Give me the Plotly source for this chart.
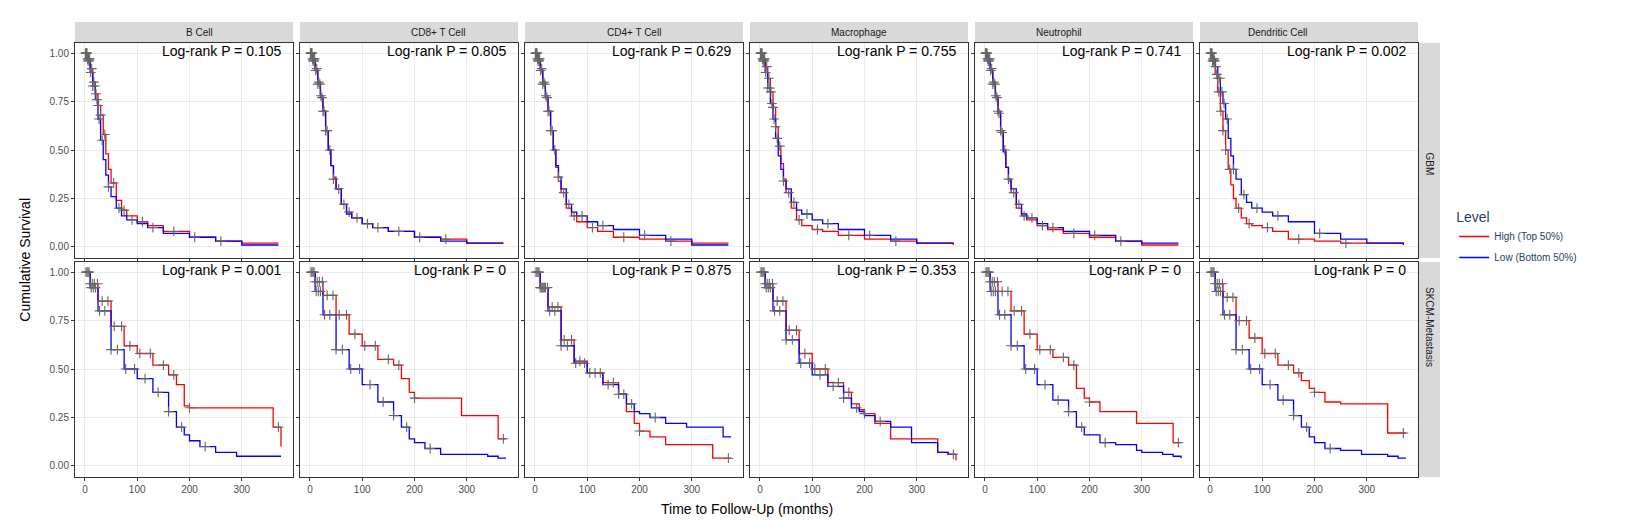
import numpy as np
import plotly.graph_objects as go
from plotly.subplots import make_subplots

cells = ["B Cell", "CD8+ T Cell", "CD4+ T Cell", "Macrophage", "Neutrophil", "Dendritic Cell"]
cancers = ["GBM", "SKCM-Metastasis"]
pvals_gbm = ["0.105", "0.805", "0.629", "0.755", "0.741", "0.002"]
pvals_skcm = ["0.001", "0", "0.875", "0.353", "0", "0"]

# GBM curves (time in months, survival)
gbm_t = [0, 5, 10, 15, 20, 25, 30, 35, 40, 45, 50, 60, 70, 80, 100, 120, 150, 200, 250, 300, 370]
gbm_b_high = [1, 0.97, 0.92, 0.85, 0.79, 0.73, 0.68, 0.58, 0.48, 0.4, 0.33, 0.24, 0.19, 0.16, 0.13, 0.11, 0.08, 0.05, 0.03, 0.02, 0.02]
gbm_b_low = [1, 0.96, 0.9, 0.83, 0.76, 0.66, 0.55, 0.45, 0.37, 0.31, 0.26, 0.2, 0.16, 0.14, 0.12, 0.1, 0.07, 0.05, 0.03, 0.01, 0.01]
gbm_cd8_high = [1, 0.97, 0.92, 0.85, 0.78, 0.7, 0.6, 0.5, 0.42, 0.36, 0.3, 0.22, 0.18, 0.15, 0.12, 0.1, 0.08, 0.05, 0.04, 0.02, 0.02]
gbm_cd8_low = [1, 0.96, 0.91, 0.84, 0.77, 0.7, 0.6, 0.5, 0.42, 0.35, 0.3, 0.22, 0.17, 0.15, 0.12, 0.1, 0.08, 0.05, 0.03, 0.02, 0.02]
gbm_cd4_high = [1, 0.97, 0.92, 0.85, 0.78, 0.7, 0.6, 0.5, 0.41, 0.34, 0.28, 0.2, 0.16, 0.13, 0.1, 0.08, 0.05, 0.04, 0.03, 0.02, 0.02]
gbm_cd4_low = [1, 0.96, 0.91, 0.84, 0.77, 0.7, 0.6, 0.5, 0.42, 0.36, 0.3, 0.22, 0.18, 0.16, 0.13, 0.11, 0.09, 0.06, 0.04, 0.01, 0.01]
gbm_mac_high = [1, 0.97, 0.93, 0.87, 0.8, 0.72, 0.62, 0.52, 0.43, 0.35, 0.28, 0.2, 0.14, 0.11, 0.09, 0.08, 0.06, 0.04, 0.03, 0.02, 0.01]
gbm_mac_low = [1, 0.96, 0.9, 0.82, 0.74, 0.66, 0.56, 0.47, 0.4, 0.34, 0.3, 0.23, 0.19, 0.17, 0.14, 0.12, 0.09, 0.06, 0.04, 0.02, 0.02]
gbm_neu_high = [1, 0.97, 0.92, 0.85, 0.78, 0.7, 0.6, 0.5, 0.41, 0.34, 0.28, 0.2, 0.16, 0.14, 0.11, 0.09, 0.07, 0.05, 0.03, 0.01, 0.01]
gbm_neu_low = [1, 0.96, 0.91, 0.84, 0.77, 0.69, 0.59, 0.49, 0.41, 0.35, 0.3, 0.22, 0.17, 0.15, 0.12, 0.1, 0.08, 0.06, 0.03, 0.02, 0.02]
gbm_dc_high = [1, 0.96, 0.89, 0.8, 0.7, 0.6, 0.5, 0.4, 0.32, 0.25, 0.2, 0.15, 0.12, 0.11, 0.1, 0.08, 0.04, 0.03, 0.02, 0.02, 0.02]
gbm_dc_low = [1, 0.97, 0.93, 0.87, 0.8, 0.74, 0.66, 0.56, 0.47, 0.4, 0.35, 0.27, 0.23, 0.2, 0.18, 0.16, 0.13, 0.07, 0.04, 0.02, 0.01]

# SKCM-Metastasis curves
skcm_t = [0, 10, 25, 50, 75, 100, 130, 160, 175, 190, 200, 220, 250, 290, 300, 340, 360, 375]
skcm_b_high = [1, 0.94, 0.85, 0.72, 0.62, 0.58, 0.52, 0.47, 0.42, 0.31, 0.3, 0.3, 0.3, 0.3, 0.3, 0.3, 0.2, 0.1]
skcm_b_low = [1, 0.92, 0.8, 0.6, 0.5, 0.45, 0.38, 0.28, 0.2, 0.16, 0.13, 0.1, 0.07, 0.05, 0.05, 0.05, 0.05, 0.05]
skcm_cd8_high = [1, 0.95, 0.88, 0.78, 0.68, 0.62, 0.55, 0.52, 0.45, 0.38, 0.35, 0.35, 0.35, 0.26, 0.26, 0.26, 0.14, 0.14]
skcm_cd8_low = [1, 0.9, 0.78, 0.6, 0.5, 0.42, 0.33, 0.26, 0.2, 0.14, 0.12, 0.09, 0.06, 0.06, 0.06, 0.05, 0.04, 0.04]
skcm_cd4_high = [1, 0.92, 0.82, 0.65, 0.54, 0.48, 0.43, 0.37, 0.28, 0.22, 0.18, 0.15, 0.11, 0.11, 0.11, 0.04, 0.04, 0.04]
skcm_cd4_low = [1, 0.92, 0.8, 0.62, 0.53, 0.48, 0.42, 0.37, 0.32, 0.28, 0.27, 0.25, 0.22, 0.2, 0.2, 0.2, 0.15, 0.15]
skcm_mac_high = [1, 0.94, 0.85, 0.7, 0.58, 0.5, 0.43, 0.38, 0.32, 0.29, 0.27, 0.22, 0.14, 0.14, 0.14, 0.07, 0.06, 0.03]
skcm_mac_low = [1, 0.92, 0.8, 0.65, 0.53, 0.47, 0.41, 0.35, 0.3, 0.28, 0.26, 0.23, 0.2, 0.12, 0.12, 0.07, 0.06, 0.06]
skcm_neu_high = [1, 0.95, 0.9, 0.8, 0.68, 0.6, 0.56, 0.52, 0.4, 0.35, 0.33, 0.28, 0.28, 0.22, 0.22, 0.22, 0.12, 0.12]
skcm_neu_low = [1, 0.9, 0.78, 0.62, 0.5, 0.42, 0.34, 0.28, 0.2, 0.16, 0.16, 0.12, 0.11, 0.08, 0.07, 0.06, 0.05, 0.04]
skcm_dc_high = [1, 0.94, 0.87, 0.75, 0.66, 0.58, 0.52, 0.48, 0.44, 0.4, 0.38, 0.33, 0.32, 0.32, 0.32, 0.17, 0.17, 0.17]
skcm_dc_low = [1, 0.9, 0.78, 0.6, 0.5, 0.42, 0.34, 0.26, 0.2, 0.15, 0.12, 0.09, 0.08, 0.06, 0.06, 0.05, 0.04, 0.04]

# censoring times
gbm_cens = [1, 2, 3, 4, 5, 6, 7, 8, 9, 11, 13, 15, 17, 19, 21, 23, 25, 27, 30, 33, 38, 45, 55, 65, 75, 90, 110, 130, 170, 210, 260]
skcm_cens = [2, 4, 6, 8, 10, 12, 14, 16, 18, 20, 24, 28, 33, 38, 44, 50, 56, 62, 70, 78, 86, 95, 105, 115, 125, 140, 150, 160, 170, 185, 200, 230, 370]

gbm_curves = [(gbm_b_high, gbm_b_low), (gbm_cd8_high, gbm_cd8_low), (gbm_cd4_high, gbm_cd4_low),
              (gbm_mac_high, gbm_mac_low), (gbm_neu_high, gbm_neu_low), (gbm_dc_high, gbm_dc_low)]
skcm_curves = [(skcm_b_high, skcm_b_low), (skcm_cd8_high, skcm_cd8_low), (skcm_cd4_high, skcm_cd4_low),
               (skcm_mac_high, skcm_mac_low), (skcm_neu_high, skcm_neu_low), (skcm_dc_high, skcm_dc_low)]


def step_at(t, s, x):
    t = np.array(t)
    s = np.array(s)
    idx = np.searchsorted(t, x, side="right") - 1
    return s[idx]


fig = make_subplots(rows=2, cols=6, horizontal_spacing=0.0052, vertical_spacing=0.0092,
                    shared_xaxes=True, shared_yaxes=True)

rows = [(gbm_t, gbm_curves, gbm_cens, pvals_gbm), (skcm_t, skcm_curves, skcm_cens, pvals_skcm)]
for r, (tt, curves, cens, pv) in enumerate(rows, start=1):
    for c, (hi, lo) in enumerate(curves, start=1):
        for s, col, name in [(hi, "#FF0000", "High (Top 50%)"), (lo, "#0000FF", "Low (Bottom 50%)")]:
            fig.add_trace(go.Scatter(x=tt, y=s, mode="lines", line=dict(color=col, width=1.3, shape="hv"),
                                     name=name, legendgroup=name, showlegend=(r == 1 and c == 1)),
                          row=r, col=c)
        for k, s in enumerate((hi, lo)):
            cx = [x for x in cens if x <= tt[-1]][k::2]
            fig.add_trace(go.Scatter(x=cx, y=step_at(tt, s, cx), mode="markers",
                                     marker=dict(symbol="cross-thin-open", size=7, color="#666666",
                                                 line=dict(width=1.1, color="#666666")),
                                     showlegend=False, hoverinfo="skip"), row=r, col=c)
        n = (r - 1) * 6 + c
        sfx = "" if n == 1 else str(n)
        fig.add_annotation(text="Log-rank P = " + pv[c - 1], x=1, y=1, xref=f"x{sfx} domain",
                           yref=f"y{sfx} domain", xanchor="right", yanchor="top", xshift=-10, yshift=2,
                           showarrow=False, font=dict(size=14, color="black"))

fig.update_xaxes(range=[-19, 398], tickvals=[0, 100, 200, 300], showgrid=True, gridcolor="#EBEBEB",
                 showline=True, linecolor="#333333", mirror=True, zeroline=False, ticks="outside",
                 ticklen=3, tickcolor="#333333", tickfont=dict(size=10, color="#4D4D4D"))
fig.update_yaxes(range=[-0.057, 1.052], tickvals=[0, 0.25, 0.5, 0.75, 1],
                 ticktext=["0.00", "0.25", "0.50", "0.75", "1.00"], showgrid=True, gridcolor="#EBEBEB",
                 showline=True, linecolor="#333333", mirror=True, zeroline=False, ticks="outside",
                 ticklen=3, tickcolor="#333333", tickfont=dict(size=10, color="#4D4D4D"))

W, H = 1647, 530
L, R, T, B = 67, 237, 35, 61
pw, ph = W - L - R, H - T - B
sh = 21 / ph
sw = 22 / pw
for c in range(6):
    dom = fig.layout[f"xaxis{'' if c == 0 else c + 1}"].domain
    fig.add_shape(type="rect", xref="paper", yref="paper", x0=dom[0], x1=dom[1], y0=1 + 1 / ph, y1=1 + sh,
                  fillcolor="#D9D9D9", line_width=0)
    fig.add_annotation(text=cells[c], xref="paper", yref="paper", x=(dom[0] + dom[1]) / 2,
                       y=1 + sh / 2 + 0.5 / ph, yanchor="middle",
                       showarrow=False, font=dict(size=10, color="#1A1A1A"))
for r in range(2):
    dom = fig.layout[f"yaxis{'' if r == 0 else 7}"].domain
    fig.add_shape(type="rect", xref="paper", yref="paper", x0=1 + 1 / pw, x1=1 + sw, y0=dom[0], y1=dom[1],
                  fillcolor="#D9D9D9", line_width=0)
    fig.add_annotation(text=cancers[r], xref="paper", yref="paper", x=1 + sw / 2 + 0.5 / pw,
                       y=(dom[0] + dom[1]) / 2, xanchor="center",
                       showarrow=False, textangle=90, font=dict(size=10, color="#1A1A1A"))

fig.add_annotation(text="Time to Follow-Up (months)", xref="paper", yref="paper", x=0.5, y=-0.05,
                   yanchor="top", showarrow=False, font=dict(size=14, color="black"))
fig.add_annotation(text="Cumulative Survival", xref="paper", yref="paper", x=-0.03, y=0.5,
                   xanchor="right", textangle=-90, showarrow=False, font=dict(size=14, color="black"))

fig.update_layout(width=W, height=H, margin=dict(l=L, r=R, t=T, b=B, autoexpand=False),
                  plot_bgcolor="white", paper_bgcolor="white",
                  font=dict(family="Liberation Sans, Arial, sans-serif"),
                  legend=dict(title=dict(text="Level", font=dict(size=14)), x=1.027, y=0.55, yanchor="middle",
                              xanchor="left", font=dict(size=10), tracegroupgap=2))

fig.write_html("out.html")
